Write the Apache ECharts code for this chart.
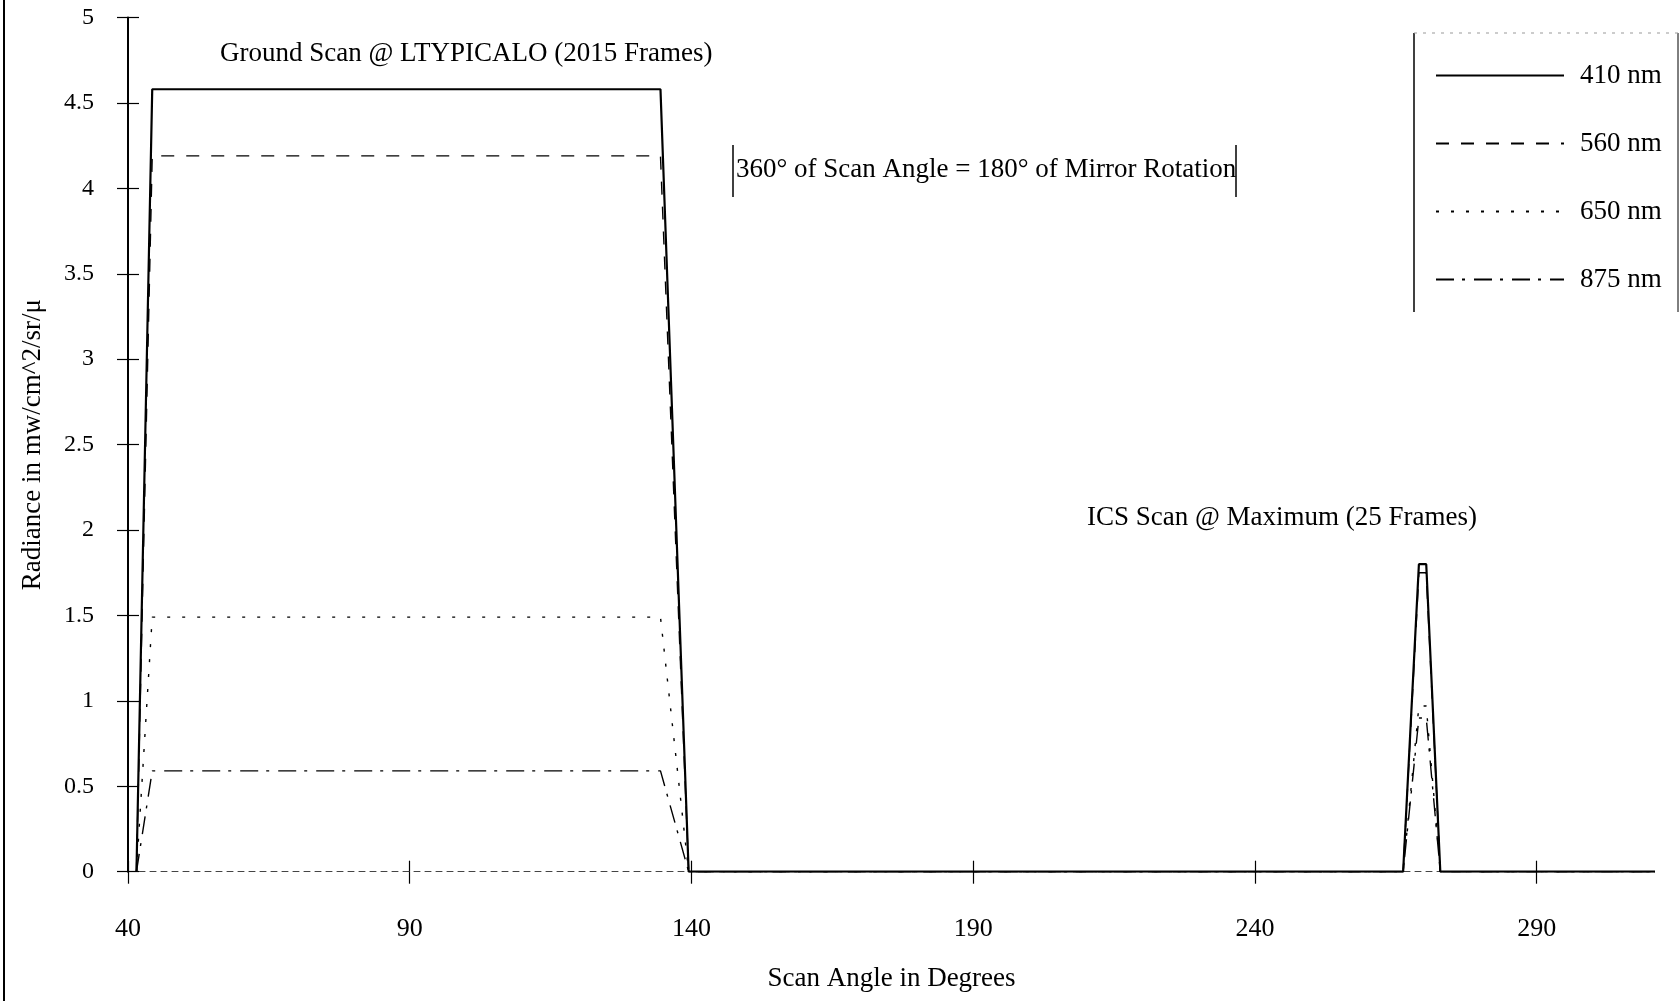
<!DOCTYPE html>
<html>
<head>
<meta charset="utf-8">
<script src="https://cdn.jsdelivr.net/npm/echarts@6/dist/echarts.min.js"></script>
<style>html,body{margin:0;padding:0;background:#fff;}#c{width:1680px;height:1001px;}</style>
</head>
<body>
<div id="c"></div>
<script>
// Data
var scanAngles = [41.5, 44.3, 134.5, 139.5, 266.3, 269.1, 270.4, 272.9, 311];
var nm410 = [0, 4.58, 4.58, 0, 0, 1.80, 1.80, 0, 0];
var nm560 = [0, 4.19, 4.19, 0, 0, 1.75, 1.75, 0, 0];
var nm650 = [0, 1.49, 1.49, 0, 0, 0.97, 0.97, 0, 0];
var nm875 = [0, 0.59, 0.59, 0, 0, 0.90, 0.90, 0, 0];
var seriesNames = ['410 nm', '560 nm', '650 nm', '875 nm'];
var xTicks = [40, 90, 140, 190, 240, 290];

var FONT = 'Liberation Serif';
function pairs(vals) { return scanAngles.map(function (x, i) { return [x, vals[i]]; }); }

var chart = echarts.init(document.getElementById('c'));
var styles = [
  { width: 2.2, type: 'solid' },
  { width: 1.4, type: [13, 12] },
  { width: 1.4, type: [3, 12] },
  { width: 1.4, type: [18, 8, 3, 9] }
];
var vals = [nm410, nm560, nm650, nm875];
var series = vals.map(function (v, i) {
  return {
    name: seriesNames[i], type: 'line', data: pairs(v), symbol: 'none',
    xAxisIndex: 0, yAxisIndex: 0,
    lineStyle: { color: '#000', width: styles[i].width, type: styles[i].type },
    itemStyle: { color: '#000' }, z: 10 - i, animation: false
  };
});

var TXT = '27px "Liberation Serif"';
chart.setOption({
  animation: false,
  backgroundColor: '#fff',
  grid: { left: 128, right: 25, top: 17.5, bottom: 129.3 },
  xAxis: [{
    type: 'value', min: 40, max: 311, interval: 50,
    axisLine: { lineStyle: { color: '#444', width: 1, type: [6, 5] } },
    axisTick: { show: true, length: 12, customValues: xTicks, lineStyle: { color: '#000', width: 1.2 } },
    axisLabel: { margin: 44, customValues: xTicks, fontFamily: FONT, fontSize: 26, color: '#000' },
    splitLine: { show: false },
    name: 'Scan Angle in Degrees', nameLocation: 'middle', nameGap: 94,
    nameTextStyle: { fontFamily: FONT, fontSize: 27, color: '#000' }
  }, {
    type: 'value', min: 40, max: 311, interval: 50, position: 'bottom', gridIndex: 0,
    axisLine: { show: false },
    axisTick: { show: true, inside: true, length: 11, customValues: xTicks, lineStyle: { color: '#000', width: 1.2 } },
    axisLabel: { show: false }, splitLine: { show: false }
  }],
  yAxis: [{
    type: 'value', min: 0, max: 5, interval: 0.5,
    axisLine: { show: true, lineStyle: { color: '#000', width: 2 } },
    axisTick: { show: true, length: 11, lineStyle: { color: '#000', width: 1.2 } },
    axisLabel: { margin: 34, fontFamily: FONT, fontSize: 24, color: '#000' },
    splitLine: { show: false },
    name: 'Radiance in mw/cm^2/sr/\u03bc', nameLocation: 'middle', nameGap: 82,
    nameTextStyle: { fontFamily: FONT, fontSize: 27, color: '#000' }
  }, {
    type: 'value', min: 0, max: 5, interval: 0.5, position: 'left',
    axisLine: { show: false },
    axisTick: { show: true, inside: true, length: 11, lineStyle: { color: '#000', width: 1.2 } },
    axisLabel: { show: false }, splitLine: { show: false }
  }],
  legend: {
    orient: 'vertical', left: 1414, top: 33,
    padding: [29, 20, 20, 21],
    itemWidth: 128, itemHeight: 14, itemGap: 41,
    itemStyle: { color: 'rgba(0,0,0,0)', borderWidth: 0, opacity: 0 },
    textStyle: { fontFamily: FONT, fontSize: 27, color: '#000', padding: [0, 0, 0, 11] },
    data: seriesNames
  },
  graphic: [
    { type: 'line', shape: { x1: 4, y1: 0, x2: 4, y2: 1001 }, style: { stroke: '#000', lineWidth: 2 } },
    { type: 'line', shape: { x1: 1414, y1: 33, x2: 1414, y2: 312 }, style: { stroke: '#000', lineWidth: 1.5 } },
    { type: 'line', shape: { x1: 1678, y1: 33, x2: 1678, y2: 312 }, style: { stroke: '#000', lineWidth: 1 } },
    { type: 'line', shape: { x1: 1414, y1: 33, x2: 1678, y2: 33 }, style: { stroke: '#999', lineWidth: 1, lineDash: [3, 6] } },
    { type: 'line', shape: { x1: 733, y1: 145, x2: 733, y2: 197 }, style: { stroke: '#000', lineWidth: 1.5 } },
    { type: 'line', shape: { x1: 1236, y1: 145, x2: 1236, y2: 197 }, style: { stroke: '#000', lineWidth: 1.5 } },
    { type: 'text', left: 220, top: 40, style: { text: 'Ground Scan @ LTYPICALO (2015 Frames)', font: TXT, fill: '#000' } },
    { type: 'text', left: 736, top: 156, style: { text: '360\u00b0 of Scan Angle = 180\u00b0 of Mirror Rotation', font: TXT, fill: '#000' } },
    { type: 'text', left: 1087, top: 504, style: { text: 'ICS Scan @ Maximum (25 Frames)', font: TXT, fill: '#000' } }
  ],
  series: series
});
</script>
</body>
</html>
